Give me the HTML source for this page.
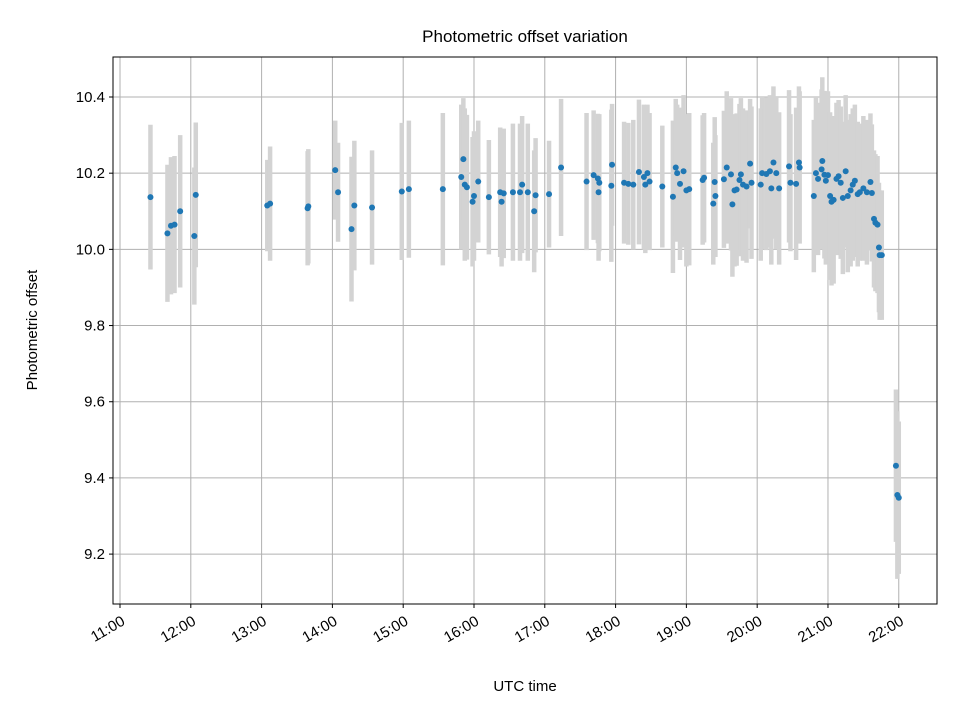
<!DOCTYPE html>
<html><head><meta charset="utf-8">
<style>
body{margin:0;background:#fff;}
svg text{font-family:"Liberation Sans","DejaVu Sans",sans-serif;fill:#000;}
</style></head>
<body>
<svg id="chart" width="960" height="720" xmlns="http://www.w3.org/2000/svg">
<rect width="960" height="720" fill="#fff"/>
<g id="grid"></g>
<g id="errs"></g>
<g id="pts"></g>
<rect x="113" y="57" width="824" height="547" fill="none" stroke="#000" stroke-width="1"/>
<g id="axes"></g>
<text x="525" y="42" font-size="17" text-anchor="middle">Photometric offset variation</text>
<text x="525" y="691" font-size="15" text-anchor="middle">UTC time</text>
<text transform="translate(37,330) rotate(-90)" font-size="15" text-anchor="middle">Photometric offset</text>
</svg>
<script>
const times=[11.43,11.67,11.72,11.77,11.85,12.05,12.07,13.08,13.12,13.65,13.66,14.04,14.08,14.27,14.31,14.56,14.98,15.08,15.56,15.82,15.85,15.87,15.90,15.98,16.0,16.06,16.21,16.37,16.39,16.42,16.55,16.65,16.68,16.76,16.85,16.87,17.06,17.23,17.59,17.69,17.77,17.75,17.76,17.94,17.95,18.12,18.18,18.25,18.33,18.4,18.42,18.45,18.48,18.66,18.81,18.85,18.87,18.91,18.96,19.0,19.04,19.23,19.25,19.38,19.41,19.4,19.53,19.57,19.63,19.65,19.68,19.71,19.75,19.77,19.8,19.85,19.9,19.92,20.07,20.05,20.13,20.18,20.23,20.2,20.27,20.31,20.45,20.47,20.55,20.59,20.60,20.80,20.83,20.86,20.91,20.92,20.95,20.97,21.0,21.03,21.05,21.08,21.12,21.15,21.18,21.21,21.25,21.28,21.32,21.35,21.38,21.42,21.45,21.5,21.55,21.6,21.62,21.65,21.67,21.7,21.72,21.73,21.76,21.96,21.98,22.0];
const offsets=[10.137,10.042,10.062,10.065,10.10,10.035,10.143,10.115,10.12,10.108,10.113,10.208,10.15,10.053,10.115,10.11,10.152,10.158,10.158,10.19,10.237,10.17,10.163,10.125,10.14,10.178,10.137,10.15,10.125,10.147,10.15,10.15,10.17,10.15,10.10,10.142,10.145,10.215,10.178,10.195,10.175,10.186,10.15,10.167,10.222,10.175,10.172,10.17,10.203,10.19,10.17,10.2,10.178,10.165,10.138,10.215,10.2,10.172,10.205,10.155,10.158,10.182,10.188,10.12,10.14,10.177,10.184,10.215,10.197,10.118,10.155,10.157,10.182,10.197,10.17,10.165,10.225,10.175,10.2,10.17,10.198,10.205,10.228,10.16,10.2,10.16,10.218,10.175,10.172,10.228,10.215,10.14,10.2,10.185,10.21,10.232,10.196,10.18,10.195,10.14,10.125,10.13,10.185,10.192,10.175,10.135,10.205,10.14,10.155,10.17,10.18,10.145,10.15,10.16,10.15,10.177,10.148,10.08,10.07,10.065,10.005,9.985,9.985,9.432,9.355,9.348];
const errors=[0.19,0.18,0.18,0.18,0.2,0.18,0.19,0.12,0.15,0.15,0.15,0.13,0.13,0.19,0.17,0.15,0.18,0.18,0.2,0.19,0.16,0.2,0.19,0.17,0.17,0.16,0.15,0.17,0.17,0.17,0.18,0.18,0.18,0.18,0.16,0.15,0.14,0.18,0.18,0.17,0.18,0.17,0.18,0.2,0.16,0.16,0.16,0.17,0.19,0.19,0.18,0.18,0.18,0.16,0.2,0.18,0.18,0.2,0.2,0.2,0.2,0.17,0.17,0.16,0.16,0.17,0.18,0.2,0.2,0.19,0.2,0.2,0.2,0.2,0.2,0.2,0.17,0.2,0.2,0.2,0.2,0.2,0.2,0.2,0.2,0.2,0.2,0.18,0.2,0.2,0.2,0.2,0.2,0.2,0.21,0.22,0.22,0.22,0.22,0.22,0.22,0.22,0.2,0.2,0.2,0.2,0.2,0.2,0.2,0.2,0.2,0.19,0.18,0.19,0.19,0.18,0.18,0.18,0.18,0.18,0.17,0.17,0.17,0.2,0.22,0.2];
const xTicks=[11,12,13,14,15,16,17,18,19,20,21,22];
const xTickLabels=["11:00","12:00","13:00","14:00","15:00","16:00","17:00","18:00","19:00","20:00","21:00","22:00"];
const yTicks=[9.2,9.4,9.6,9.8,10.0,10.2,10.4];
const yTickLabels=["9.2","9.4","9.6","9.8","10.0","10.2","10.4"];

const NS="http://www.w3.org/2000/svg";
const X0=113,X1=937,Y0=57,Y1=604;
const xMin=10.901,xMax=22.54,yMin=9.069,yMax=10.505;
const xs=t=>X0+(t-xMin)/(xMax-xMin)*(X1-X0);
const ys=v=>Y1-(v-yMin)/(yMax-yMin)*(Y1-Y0);
function mk(tag,attrs,parent){const e=document.createElementNS(NS,tag);for(const k in attrs)e.setAttribute(k,attrs[k]);parent.appendChild(e);return e;}
const grid=document.getElementById('grid'),axes=document.getElementById('axes');
xTicks.forEach((t,i)=>{
  const x=xs(t);
  const g=mk('line',{x1:x,x2:x,y1:Y0,y2:Y1,stroke:'#b0b0b0','stroke-width':1},grid);
  
  
  const tk=mk('line',{x1:x,x2:x,y1:Y1,y2:Y1+4,stroke:'#000'},axes);
  
  
  const tx=mk('text',{transform:`translate(${x+6},${Y1+20}) rotate(-30)`,'font-size':15,'text-anchor':'end'},axes);
  tx.textContent=xTickLabels[i];
  
  
});
yTicks.forEach((v,i)=>{
  const y=ys(v);
  const g=mk('line',{x1:X0,x2:X1,y1:y,y2:y,stroke:'#b0b0b0','stroke-width':1},grid);
  
  
  const tk=mk('line',{x1:X0-4,x2:X0,y1:y,y2:y,stroke:'#000'},axes);
  
  
  const tx=mk('text',{x:X0-8,y:y+5,'font-size':15,'text-anchor':'end'},axes);
  tx.textContent=yTickLabels[i];
  
  
});
const errs=document.getElementById('errs'),pts=document.getElementById('pts');
times.forEach((t,i)=>{
  const x=xs(t);
  const e=mk('line',{x1:x,x2:x,y1:ys(offsets[i]+errors[i]),y2:ys(offsets[i]-errors[i]),stroke:'#d3d3d3','stroke-width':4.5},errs);
  
  
});
times.forEach((t,i)=>{
  const c=mk('circle',{cx:xs(t),cy:ys(offsets[i]),r:3,fill:'#1f77b4'},pts);
  
  
});
</script>
</body></html>
